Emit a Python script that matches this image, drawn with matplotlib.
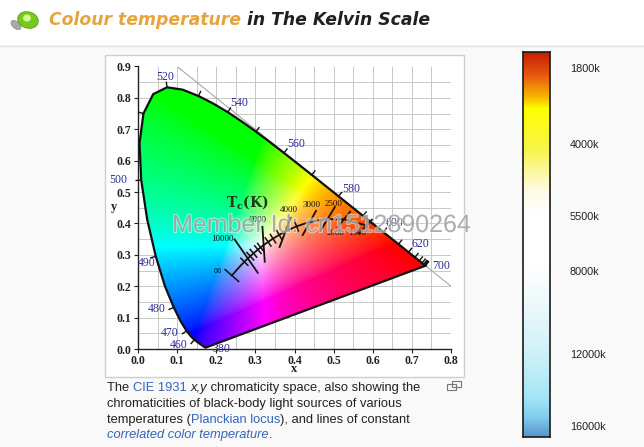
import numpy as np
import matplotlib
matplotlib.use('Agg')
import matplotlib.pyplot as plt
from matplotlib.patches import Polygon, Rectangle, Ellipse
from matplotlib.colors import LinearSegmentedColormap
import matplotlib.patheffects as pe

W, H = 644, 447

# CIE 1931 spectral locus (nm, x, y)
wl = [380, 390, 400, 410, 420, 430, 440, 450, 460, 465, 470, 475, 480, 485, 490,
      495, 500, 505, 510, 515, 520, 525, 530, 535, 540, 545, 550, 555, 560, 565,
      570, 575, 580, 585, 590, 595, 600, 605, 610, 615, 620, 625, 630, 635, 640,
      645, 650, 660, 670, 680, 700]
loc_x = [0.1741, 0.1738, 0.1733, 0.1726, 0.1714, 0.1689, 0.1644, 0.1566, 0.1440, 0.1355,
         0.1241, 0.1096, 0.0913, 0.0687, 0.0454, 0.0235, 0.0082, 0.0039, 0.0139, 0.0389,
         0.0743, 0.1142, 0.1547, 0.1929, 0.2296, 0.2658, 0.3016, 0.3373, 0.3731, 0.4087,
         0.4441, 0.4788, 0.5125, 0.5448, 0.5752, 0.6029, 0.6270, 0.6482, 0.6658, 0.6801,
         0.6915, 0.7006, 0.7079, 0.7140, 0.7190, 0.7230, 0.7260, 0.7300, 0.7320, 0.7334,
         0.7347]
loc_y = [0.0050, 0.0049, 0.0048, 0.0048, 0.0051, 0.0069, 0.0109, 0.0177, 0.0297, 0.0399,
         0.0578, 0.0868, 0.1327, 0.2007, 0.2950, 0.4127, 0.5384, 0.6548, 0.7502, 0.8120,
         0.8338, 0.8262, 0.8059, 0.7816, 0.7543, 0.7243, 0.6923, 0.6589, 0.6245, 0.5896,
         0.5547, 0.5202, 0.4866, 0.4544, 0.4242, 0.3965, 0.3725, 0.3514, 0.3340, 0.3197,
         0.3083, 0.2993, 0.2920, 0.2859, 0.2809, 0.2770, 0.2740, 0.2700, 0.2680, 0.2666,
         0.2653]

# wavelength labels
wl_labels = ['520', '540', '560', '580', '600', '620', '700', '500', '490', '480', '470', '460', '380']
wl_lx = [0.069, 0.258, 0.404, 0.544, 0.655, 0.723, 0.776, -0.050, 0.022, 0.048, 0.082, 0.103, 0.212]
wl_ly = [0.866, 0.783, 0.652, 0.511, 0.400, 0.336, 0.264, 0.537, 0.274, 0.126, 0.050, 0.013, -0.001]

# Planckian locus (K, x, y); 1e9 stands for infinity
pl_T = [1e9, 20000, 15000, 12000, 10000, 9000, 8000, 7000, 6500, 6000, 5500, 5000,
        4500, 4000, 3500, 3000, 2500, 2000, 1500]
pl_x = [0.2399, 0.2565, 0.2637, 0.2719, 0.2807, 0.2869, 0.2952, 0.3064, 0.3135, 0.3221,
        0.3325, 0.3451, 0.3608, 0.3805, 0.4053, 0.4369, 0.4770, 0.5267, 0.5857]
pl_y = [0.2341, 0.2577, 0.2674, 0.2778, 0.2884, 0.2956, 0.3048, 0.3166, 0.3237, 0.3318,
        0.3411, 0.3516, 0.3636, 0.3768, 0.3907, 0.4041, 0.4137, 0.4133, 0.3931]
small_ticks_T = [1e9, 12000, 9000, 8000, 7000, 6500, 5500, 5000, 4500, 3500]

# isotherm lines
iso_T = [10000, 6000, 4000, 3000, 2500, 2000, 1500]
iso_x0 = [0.247, 0.318, 0.362, 0.421, 0.466, 0.510, 0.565]
iso_y0 = [0.349, 0.389, 0.325, 0.363, 0.376, 0.388, 0.368]
iso_x1 = [0.306, 0.324, 0.390, 0.455, 0.503, 0.542, 0.598]
iso_y1 = [0.243, 0.278, 0.418, 0.440, 0.452, 0.437, 0.412]
iso_lbl = ['10000', '6000', '4000', '3000', '2500', '2000', '1500']
iso_lx = [0.215, 0.305, 0.385, 0.444, 0.499, 0.506, 0.559]
iso_ly = [0.349, 0.410, 0.444, 0.458, 0.463, 0.368, 0.368]

# colour bar
cb_labels = ['1800k', '4000k', '5500k', '8000k', '12000k', '16000k']
cb_label_y = [69, 145, 217, 272, 355, 427]
cb_stops = [0.0, 0.06, 0.12, 0.145, 0.25, 0.36, 0.42, 0.55, 0.66, 0.80, 0.90, 0.95, 1.0]
cb_colors = ['#c81e00', '#e85a10', '#f8c000', '#ffff00', '#f8f448', '#fffbe6', '#ffffff',
             '#ffffff', '#ecf9fc', '#c8f0f8', '#a2e6f6', '#82cdee', '#5896cc']

fig = plt.figure(figsize=(W / 100, H / 100), dpi=100)
fig.patch.set_facecolor('#f9f9f9')


def fx(px):
    return px / W


def fy(py):
    return 1 - py / H


# header strip
fig.patches.append(Rectangle((0, fy(45)), 1, 45 / H, transform=fig.transFigure,
                             facecolor='white', edgecolor='none', zorder=0))
fig.lines.append(plt.Line2D([0, 1], [fy(45.5), fy(45.5)], transform=fig.transFigure,
                            color='#e4e4e4', lw=1))

# bulb icon
fig.patches.append(Ellipse((fx(16), fy(25)), 8 / W, 10 / H, angle=30, transform=fig.transFigure,
                           facecolor='#a8a8a8', edgecolor='#888888', lw=0.5))
fig.patches.append(Ellipse((fx(28), fy(20)), 20 / W, 17 / H, angle=20, transform=fig.transFigure,
                           facecolor='#78c81e', edgecolor='#5aa010', lw=0.6))
fig.patches.append(Ellipse((fx(27), fy(18)), 8 / W, 7 / H, transform=fig.transFigure,
                           facecolor='#d8f890', edgecolor='none'))

renderer = fig.canvas.get_renderer()


def put_run(pieces, x0, y0, **common):
    x = x0
    for txt, kw in pieces:
        opts = dict(common)
        opts.update(kw)
        t = fig.text(fx(x), fy(y0), txt, ha='left', va='center', **opts)
        x += t.get_window_extent(renderer).width
    return x


put_run([('Colour temperature', dict(color='#e8a43c')),
         (' in The Kelvin Scale', dict(color='#202020'))],
        49, 20, fontsize=12.4, fontweight='bold', fontstyle='italic', family='DejaVu Sans')

# chart panel box
fig.patches.append(Rectangle((fx(105), fy(377)), 359 / W, 322 / H, transform=fig.transFigure,
                             facecolor='white', edgecolor='#cfcfcf', lw=1, zorder=0.5))

ax = fig.add_axes([fx(138), fy(349), (451 - 138) / W, (349 - 66.5) / H])
ax.set_zorder(2)
ax.set_xlim(0, 0.8)
ax.set_ylim(0, 0.9)
ax.patch.set_alpha(0)
SX = (451 - 138) / 0.8
SY = (349 - 66.5) / 0.9

ax.set_xticks(np.arange(0, 0.81, 0.1))
ax.set_yticks(np.arange(0, 0.91, 0.1))
ax.set_xticks(np.arange(0.05, 0.8, 0.1), minor=True)
ax.set_yticks(np.arange(0.05, 0.9, 0.1), minor=True)
ax.grid(which='both', color='#c8c8c8', lw=0.7, zorder=0)
ax.set_axisbelow(True)
ax.tick_params(which='minor', length=0)
ax.tick_params(which='major', length=3, width=0.8, labelsize=8.5, colors='#222222')
ax.tick_params(axis='x', pad=1)
ax.tick_params(axis='y', pad=2)
ax.set_xticklabels(['%.1f' % v for v in np.arange(0, 0.81, 0.1)], family='Liberation Serif', fontweight='bold')
ax.set_yticklabels(['%.1f' % v for v in np.arange(0, 0.91, 0.1)], family='Liberation Serif', fontweight='bold')
for s in ['top', 'right']:
    ax.spines[s].set_visible(False)
for s in ['left', 'bottom']:
    ax.spines[s].set_color('#222222')
    ax.spines[s].set_linewidth(1)

# x + y = 1 line
ax.plot([0.1, 0.8], [0.9, 0.2], color='#a8a8a8', lw=0.8, zorder=1)

# gamut fill
gx = np.linspace(0, 0.8, 420)
gy = np.linspace(0.001, 0.9, 460)
GX, GY = np.meshgrid(gx, gy)
XYZ = np.stack([GX / GY, np.ones_like(GX), (1 - GX - GY) / GY])
M = np.array([[3.2406, -1.5372, -0.4986],
              [-0.9689, 1.8758, 0.0415],
              [0.0557, -0.2040, 1.0570]])
rgb = np.tensordot(M, XYZ, axes=1)
rgb = np.clip(rgb, 0, None)
rgb = rgb / rgb.max(axis=0, keepdims=True)
rgb = rgb ** (1 / 1.5)
img = np.clip(np.moveaxis(rgb, 0, -1), 0, 1)

poly = Polygon(np.column_stack([loc_x, loc_y]), closed=True, facecolor='none',
               edgecolor='#111111', lw=1.6, zorder=3)
ax.add_patch(poly)
im = ax.imshow(img, origin='lower', extent=[0, 0.8, 0.001, 0.9], aspect='auto',
               interpolation='bilinear', zorder=2)
im.set_clip_path(poly)


def normal(xs, ys, i):
    j0 = max(i - 1, 0)
    j1 = min(i + 1, len(xs) - 1)
    dx = (xs[j1] - xs[j0]) * SX
    dy = (ys[j1] - ys[j0]) * SY
    n = np.array([-dy, dx])
    return n / np.hypot(n[0], n[1])


# spectral locus ticks
for i, w in enumerate(wl):
    if w % 10 != 0 or w < 460:
        continue
    n = normal(loc_x, loc_y, i)
    px, py = loc_x[i], loc_y[i]
    test = np.array([(px - 0.33) * SX, (py - 0.33) * SY])
    if np.dot(n, test) < 0:
        n = -n
    L = 5
    ax.plot([px, px + n[0] * L / SX], [py, py + n[1] * L / SY], color='#111111', lw=1, zorder=4,
            clip_on=False)

for lab, lx, ly in zip(wl_labels, wl_lx, wl_ly):
    ax.text(lx, ly, lab, ha='center', va='center', fontsize=8.5, color='#2c2c9c',
            family='Liberation Serif', clip_on=False, zorder=5)

# Planckian locus
ax.plot(pl_x, pl_y, color='#111111', lw=1.3, zorder=4)
for T in small_ticks_T:
    i = pl_T.index(T)
    n = normal(pl_x, pl_y, i)
    L = 9 if T == 1e9 else 5
    ax.plot([pl_x[i] - n[0] * L / SX, pl_x[i] + n[0] * L / SX],
            [pl_y[i] - n[1] * L / SY, pl_y[i] + n[1] * L / SY], color='#111111', lw=1.1, zorder=4)

for x0, y0, x1, y1 in zip(iso_x0, iso_y0, iso_x1, iso_y1):
    ax.plot([x0, x1], [y0, y1], color='#111111', lw=1.3, zorder=4)
for lab, lx, ly in zip(iso_lbl, iso_lx, iso_ly):
    ax.text(lx, ly, lab, ha='center', va='center', fontsize=6.5, color='#111111',
            family='Liberation Serif', zorder=5)
ax.text(0.203, 0.249, '\u221e', ha='center', va='center', fontsize=8, color='#111111', zorder=5)
ax.text(0.279, 0.469, r'$\mathbf{T_c(K)}$', ha='center', va='center', fontsize=10,
        color='#1a3a10', zorder=5, math_fontfamily='dejavuserif')

fig.text(fx(294), fy(369), 'x', ha='center', va='center', fontsize=9, fontweight='bold',
         family='Liberation Serif', color='#222222')
fig.text(fx(114), fy(207), 'y', ha='center', va='center', fontsize=9, fontweight='bold',
         family='Liberation Serif', color='#222222')

# caption
blue = '#3366bb'
dark = '#222222'
cap_lines = [
    [('The ', {}), ('CIE 1931', dict(color=blue)), (' ', {}), ('x,y', dict(fontstyle='italic')),
     (' chromaticity space, also showing the', {})],
    [('chromaticities of black-body light sources of various', {})],
    [('temperatures (', {}), ('Planckian locus', dict(color=blue)), ('), and lines of constant', {})],
    [('correlated color temperature', dict(color=blue, fontstyle='italic')), ('.', {})],
]
cap_y = [388, 404, 420, 435]
for pieces, yy in zip(cap_lines, cap_y):
    put_run(pieces, 107, yy, fontsize=9.3, color=dark, family='Liberation Sans')

# enlarge icon
fig.patches.append(Rectangle((fx(447), fy(390)), 9 / W, 6 / H, transform=fig.transFigure,
                             facecolor='none', edgecolor='#777777', lw=0.8))
fig.patches.append(Rectangle((fx(452), fy(387)), 9 / W, 6 / H, transform=fig.transFigure,
                             facecolor='none', edgecolor='#777777', lw=0.8))

# colour bar
cmap = LinearSegmentedColormap.from_list('kelvin', list(zip(cb_stops, cb_colors)))
cax = fig.add_axes([fx(523), fy(437), (550 - 523) / W, (437 - 52) / H])
cax.set_zorder(2)
cax.imshow(np.linspace(0, 1, 256)[:, None], cmap=cmap, aspect='auto', origin='upper')
cax.set_xticks([])
cax.set_yticks([])
for s in cax.spines.values():
    s.set_color('#1a1a1a')
    s.set_linewidth(1.2)
for lab, yy in zip(cb_labels, cb_label_y):
    fig.text(fx(570), fy(yy), lab, ha='left', va='center', fontsize=7.8, color='#222222',
             family='Liberation Sans')

# watermark
fig.text(fx(172), fy(225), 'Member Id: cn1512890264', ha='left', va='center', fontsize=18,
         color='#8c8c8c', alpha=0.6, family='Liberation Sans', zorder=10,
         path_effects=[pe.withStroke(linewidth=1.5, foreground='white', alpha=0.5)])

fig.savefig('out.png', dpi=100, facecolor=fig.get_facecolor())
